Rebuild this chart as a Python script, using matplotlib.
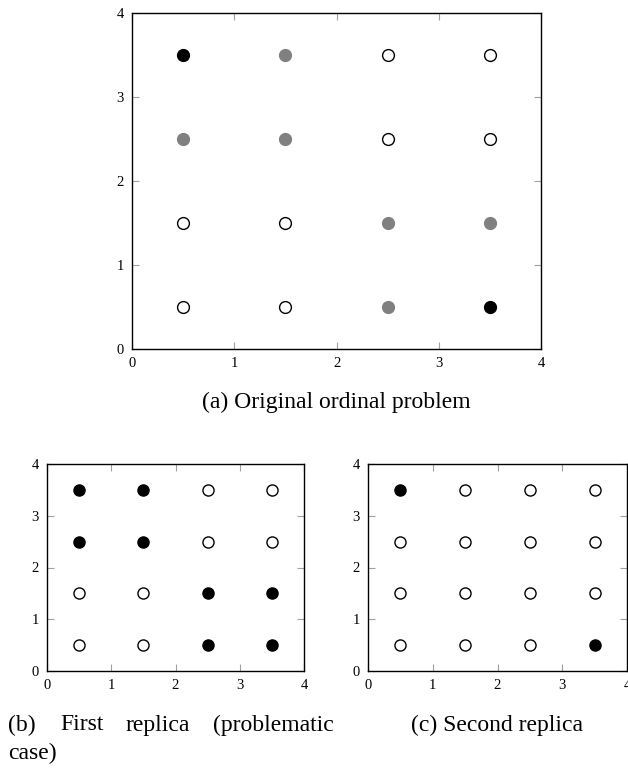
import matplotlib
matplotlib.use('Agg')
import matplotlib.pyplot as plt
import numpy as np

plt.rcParams['font.family'] = ['Liberation Serif', 'DejaVu Serif']

# cell centres of the 4x4 grid
xs = [0.5, 1.5, 2.5, 3.5]
ys = [3.5, 2.5, 1.5, 0.5]
ticks = [0, 1, 2, 3, 4]

# 0 = open circle, 1 = grey, 2 = black ; rows from top to bottom
grid_a = [[2, 1, 0, 0],
          [1, 1, 0, 0],
          [0, 0, 1, 1],
          [0, 0, 1, 2]]
grid_b = [[2, 2, 0, 0],
          [2, 2, 0, 0],
          [0, 0, 2, 2],
          [0, 0, 2, 2]]
grid_c = [[2, 0, 0, 0],
          [0, 0, 0, 0],
          [0, 0, 0, 0],
          [0, 0, 0, 2]]

fills = {0: 'white', 1: '#808080', 2: 'black'}
edges = {0: 'black', 1: '#808080', 2: 'black'}

W, H = 628, 770


def draw(rect, grid, msize):
    l, t, r, b = rect
    ax = fig.add_axes([l / W, 1 - b / H, (r - l) / W, (b - t) / H])
    for i, yv in enumerate(ys):
        for j, xv in enumerate(xs):
            v = grid[i][j]
            ax.plot(xv, yv, 'o', ms=msize, mfc=fills[v], mec=edges[v], mew=1.0)
    ax.set_xlim(0, 4)
    ax.set_ylim(0, 4)
    ax.set_xticks(ticks)
    ax.set_yticks(ticks)
    ax.tick_params(direction='in', top=True, right=True, length=5, width=0.8,
                   color='#a0a0a0', labelsize=10.5, pad=6)
    for s in ax.spines.values():
        s.set_linewidth(1.0)
        s.set_color('black')
    return ax


fig = plt.figure(figsize=(6.28, 7.7), dpi=100)

draw((132, 13, 541, 349), grid_a, 8.5)
draw((47, 464, 304, 671), grid_b, 8)
draw((368, 464, 627, 671), grid_c, 8)

fs = 17
fig.text(336 / W, 1 - 402 / H, '(a) Original ordinal problem', ha='center', va='center', fontsize=fs)

# justified caption (b)
for word, x in [('(b)', 8), ('First', 60), ('replica', 125), ('(problematic', 213)]:
    fig.text(x / W, 1 - 725 / H, word, ha='left', va='center', fontsize=fs)
fig.text(8 / W, 1 - 753 / H, 'case)', ha='left', va='center', fontsize=fs)

fig.text(497 / W, 1 - 725 / H, '(c) Second replica', ha='center', va='center', fontsize=fs)

fig.savefig('out.png', dpi=100)
